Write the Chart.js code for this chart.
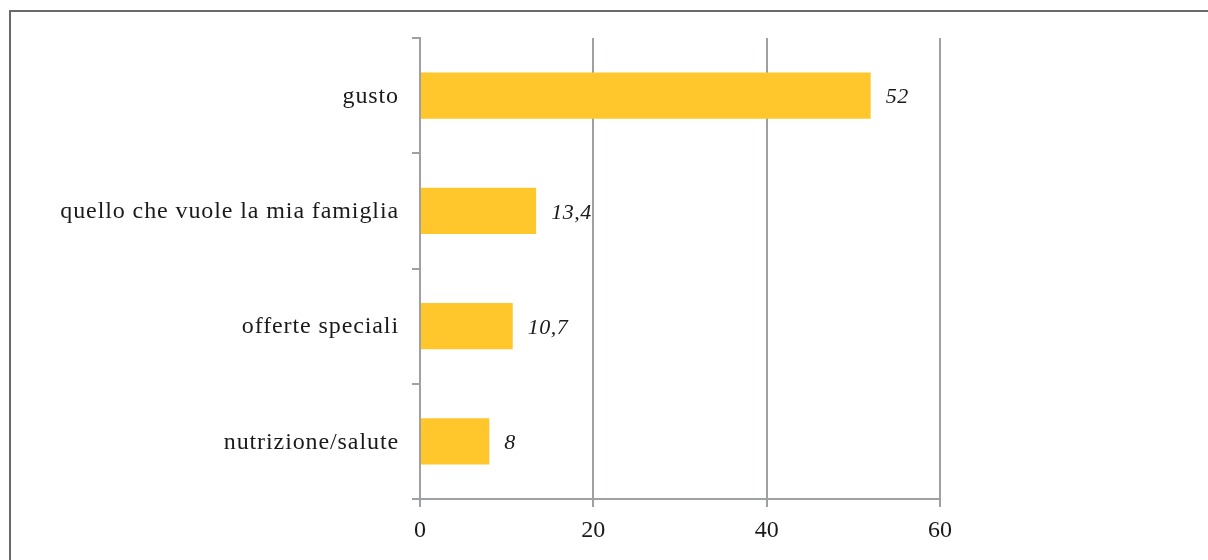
<!DOCTYPE html>
<html>
<head>
<meta charset="utf-8">
<script src="https://cdn.jsdelivr.net/npm/chart.js@4"></script>
<style>
  html, body { margin: 0; padding: 0; background: #fff; }
  #wrap { position: relative; width: 1208px; height: 560px; overflow: hidden; }
  #frame { position: absolute; left: 9px; top: 10px; width: 1300px; height: 700px;
           border-top: 2px solid #6a6a6a; border-left: 2px solid #6a6a6a; }
  canvas { position: absolute; left: 0; top: 0; }
</style>
</head>
<body>
<div id="wrap">
  <div id="frame"></div>
  <canvas id="myChart" width="1208" height="560"></canvas>
</div>
<script>
const ctx = document.getElementById("myChart").getContext("2d");

// chart data
const categories = ["gusto", "quello che vuole la mia famiglia", "offerte speciali", "nutrizione/salute"];
const values = [52, 13.4, 10.7, 8];
const valueLabels = ["52", "13,4", "10,7", "8"];
const xTicks = [0, 20, 40, 60];

const gridGray = "#9fa0a3";
const textColor = "#1a1a1a";
const serif = "'Liberation Serif', 'DejaVu Serif', serif";

// category names drawn by hand so they can get a little letter spacing
// (the original font is wider than Liberation Serif)
const categoryText = {
  id: "categoryText",
  afterDraw(chart) {
    const c = chart.ctx;
    const yScale = chart.scales.y;
    c.save();
    c.letterSpacing = "0.9px";
    c.font = "24px " + serif;
    c.fillStyle = textColor;
    c.textAlign = "right";
    c.textBaseline = "middle";
    categories.forEach((name, i) => {
      c.fillText(name, chart.chartArea.left - 21, yScale.getPixelForValue(i) + 1);
    });
    c.restore();
  }
};

// writes the value after each bar
const barValues = {
  id: "barValues",
  afterDatasetsDraw(chart) {
    const c = chart.ctx;
    const meta = chart.getDatasetMeta(0);
    c.save();
    c.letterSpacing = "0.5px";
    c.font = "italic 22px " + serif;
    c.fillStyle = textColor;
    c.textAlign = "left";
    c.textBaseline = "middle";
    meta.data.forEach((bar, i) => {
      c.fillText(valueLabels[i], bar.x + 15, bar.y + 2);
    });
    c.restore();
  }
};

new Chart(ctx, {
  type: "bar",
  data: {
    labels: categories,
    datasets: [{
      data: values,
      backgroundColor: "#ffc72c",
      borderWidth: 0,
      barPercentage: 0.4,
      categoryPercentage: 1.0,
    }],
  },
  options: {
    indexAxis: "y",
    responsive: false,
    animation: false,
    layout: { padding: { top: 38, right: 268, left: 0, bottom: 0 } },
    plugins: {
      legend: { display: false },
      tooltip: { enabled: false },
    },
    scales: {
      x: {
        min: 0,
        max: 60,
        afterBuildTicks: (scale) => { scale.ticks = xTicks.map(v => ({ value: v })); },
        afterFit: (scale) => { scale.height = 61; },
        grid: { color: gridGray, lineWidth: 2, drawTicks: true, tickLength: 8 },
        border: { display: true, color: gridGray, width: 2 },
        ticks: {
          color: textColor,
          padding: 9,
          font: { family: serif, size: 24 },
        },
      },
      y: {
        afterFit: (scale) => { scale.width = 420; },
        grid: { drawOnChartArea: false, color: gridGray, lineWidth: 2, tickLength: 8, offset: true },
        border: { display: true, color: gridGray, width: 2 },
        ticks: { display: false },
      },
    },
  },
  plugins: [categoryText, barValues],
});
</script>
</body>
</html>
